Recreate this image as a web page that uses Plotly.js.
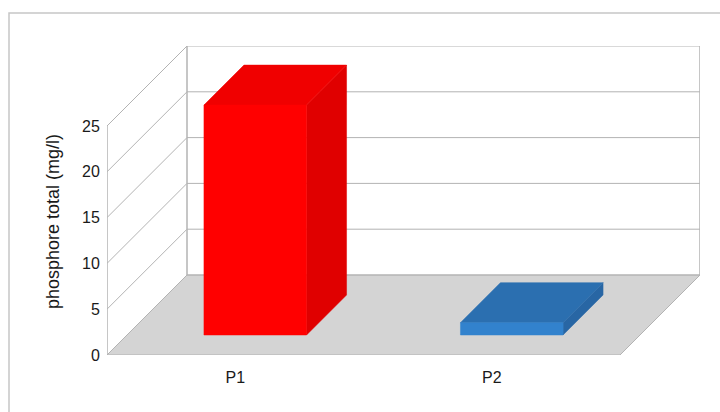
<!DOCTYPE html>
<html>
<head>
<meta charset="utf-8">
<script src="https://cdn.plot.ly/plotly-3.0.1.min.js"></script>
<style>html,body{margin:0;padding:0;background:#fff;}#chart{width:720px;height:412px;}</style>
</head>
<body>
<div id="chart"></div>
<script>
// ---- data ----
const categories = ['P1', 'P2'];
const values = [25.1, 1.35];
const yTicks = [0, 5, 10, 15, 20, 25];
const yTitle = 'phosphore total (mg/l)';
const frontColors = ['#ff0000', '#3282cd'];
const topColors = ['#f00000', '#2b6fb0'];
const sideColors = ['#e00000', '#2866a4'];

// ---- geometry ----
const W = 720, H = 412;
const M = {l: 107, r: 20, t: 46, b: 57};
const plotW = W - M.l - M.r, plotH = H - M.t - M.b;
const slotPx = 256.5;           // px per category on the front plane
const pxPerY = 229 / 25;        // px per value unit
const xMax = plotW / slotPx, yMax = plotH / pxPerY;
const depthPx = 80;             // oblique depth of the floor
const barFrontPx = 20, barBackPx = 60;
const barWidth = 0.4;
const dx = p => p / slotPx, dy = p => p / pxPerY;
const nCat = categories.length;
const yTop = yTicks[yTicks.length - 1];

const gridColor = '#b3b3b3';
const shapes = [];
// outer frame
shapes.push({type: 'rect', xref: 'paper', yref: 'paper',
  x0: (9 - M.l) / plotW, x1: (730 - M.l) / plotW,
  y0: (H - M.b - 420) / plotH, y1: (H - M.b - 13) / plotH,
  line: {color: '#c6c6c6', width: 1.5}, fillcolor: 'rgba(0,0,0,0)', layer: 'below'});
// floor
const DX = dx(depthPx), DY = dy(depthPx);
shapes.push({type: 'path', xref: 'x', yref: 'y', layer: 'below',
  path: `M0,0 L${nCat},0 L${nCat + DX},${DY} L${DX},${DY} Z`,
  fillcolor: '#d4d4d4', line: {color: gridColor, width: 1}});
// left wall diagonals and back wall gridlines
yTicks.forEach(t => {
  shapes.push({type: 'line', xref: 'x', yref: 'y', layer: 'below',
    x0: 0, y0: t, x1: DX, y1: t + DY, line: {color: gridColor, width: 1}});
  shapes.push({type: 'line', xref: 'x', yref: 'y', layer: 'below',
    x0: DX, y0: t + DY, x1: nCat + DX, y1: t + DY, line: {color: gridColor, width: 1}});
});
// wall edges
shapes.push({type: 'line', xref: 'x', yref: 'y', layer: 'below', x0: 0, y0: 0, x1: 0, y1: yTop, line: {color: gridColor, width: 1.5}});
shapes.push({type: 'line', xref: 'x', yref: 'y', layer: 'below', x0: DX, y0: DY, x1: DX, y1: yTop + DY, line: {color: gridColor, width: 1.5}});
shapes.push({type: 'line', xref: 'x', yref: 'y', layer: 'below', x0: nCat + DX, y0: DY, x1: nCat + DX, y1: yTop + DY, line: {color: gridColor, width: 1.5}});

// bars as oblique prisms
const traces = [];
const fx = dx(barFrontPx), fy = dy(barFrontPx), bx = dx(barBackPx), by = dy(barBackPx);
categories.forEach((c, i) => {
  const v = values[i];
  const xl = i + 0.5 - barWidth / 2, xr = i + 0.5 + barWidth / 2;
  const poly = (xs, ys, col) => traces.push({type: 'scatter', mode: 'lines', x: xs, y: ys,
    fill: 'toself', fillcolor: col, line: {width: 0.5, color: col}, hoverinfo: 'skip', showlegend: false});
  poly([xr + fx, xr + bx, xr + bx, xr + fx, xr + fx], [fy, by, v + by, v + fy, fy], sideColors[i]);
  poly([xl + fx, xr + fx, xr + bx, xl + bx, xl + fx], [v + fy, v + fy, v + by, v + by, v + fy], topColors[i]);
  poly([xl + fx, xr + fx, xr + fx, xl + fx, xl + fx], [fy, fy, v + fy, v + fy, fy], frontColors[i]);
});

const font = {family: 'Liberation Sans, Arial, sans-serif', size: 16, color: '#1a1a1a'};
const layout = {
  width: W, height: H, margin: M, paper_bgcolor: '#fff', plot_bgcolor: 'rgba(0,0,0,0)',
  font: font, showlegend: false, shapes: shapes,
  xaxis: {range: [0, xMax], tickvals: categories.map((c, i) => i + 0.5), ticktext: categories,
    showgrid: false, zeroline: false, showline: false, ticks: 'outside', ticklen: 8,
    tickcolor: 'rgba(0,0,0,0)', tickfont: font, fixedrange: true},
  yaxis: {range: [0, yMax], tickvals: yTicks, showgrid: false, zeroline: false, showline: false,
    ticks: 'outside', ticklen: 3, tickcolor: 'rgba(0,0,0,0)', tickfont: font, fixedrange: true},
  annotations: [{text: yTitle, textangle: -90, xref: 'paper', yref: 'paper',
    x: (52.5 - M.l) / plotW, y: (H - M.b - 221.5) / plotH, xanchor: 'center', yanchor: 'middle',
    showarrow: false, font: Object.assign({}, font, {size: 18})}]
};
Plotly.newPlot('chart', traces, layout, {displayModeBar: false, staticPlot: true});
</script>
</body>
</html>
